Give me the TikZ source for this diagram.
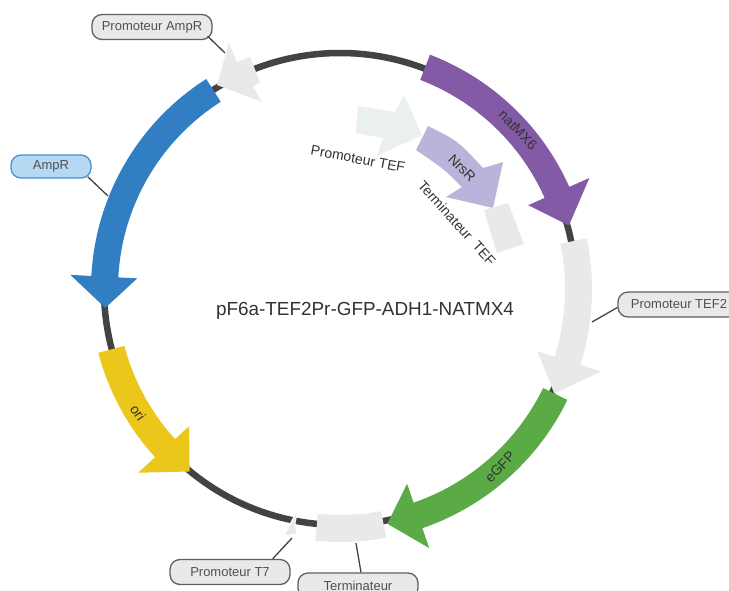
\documentclass[tikz,border=0pt]{standalone}
\usepackage{fontspec}
\setmainfont{Liberation Sans}
\definecolor{ringc}{HTML}{434343}
\definecolor{natc}{HTML}{835AA6}
\definecolor{greyf}{HTML}{E9E9E9}
\definecolor{greenc}{HTML}{5AAB46}
\definecolor{yellowc}{HTML}{EAC71A}
\definecolor{bluec}{HTML}{317EC2}
\definecolor{lblue}{HTML}{B5D8F3}
\definecolor{bborder}{HTML}{4A90D0}
\definecolor{lilac}{HTML}{BBB3DA}
\definecolor{palec}{HTML}{E9F0EF}
\definecolor{textc}{HTML}{333333}
\definecolor{calltext}{HTML}{505050}
\definecolor{gborder}{HTML}{606060}
% #1 start angle, #2 neck angle, #3 tip angle, #4 inner r, #5 outer r, #6 barb inner r, #7 barb outer r, #8 colour
\newcommand{\plasarrow}[8]{%
  \fill[#8] plot[domain=#1:#2,samples=40] ({340+#5*cos(\x)},{289-#5*sin(\x)})
    -- ({340+#7*cos(#2)},{289-#7*sin(#2)})
    -- ({340+(#4+#5)/2*cos(#3)},{289-(#4+#5)/2*sin(#3)})
    -- ({340+#6*cos(#2)},{289-#6*sin(#2)})
    -- plot[domain=#2:#1,samples=40] ({340+#4*cos(\x)},{289-#4*sin(\x)}) -- cycle;}
\tikzset{
  callout/.style={line width=1.3pt,rounded corners=10pt,minimum height=25pt,inner xsep=0pt,inner ysep=0pt,font=\fontsize{13}{15}\selectfont,text=calltext},
  callgrey/.style={callout,draw=gborder,fill=greyf},
  leader/.style={draw=ringc,line width=1.3pt},
  lab/.style={font=\fontsize{14}{16}\selectfont,text=textc,inner sep=0pt},
  inlab/.style={font=\fontsize{14}{16}\selectfont,text=textc,inner sep=0pt},
}
\begin{document}
\begin{tikzpicture}[x=1pt,y=-1pt]
\useasboundingbox (0,0) rectangle (729,590);
\clip (0,0) rectangle (729,590);
\fill[white] (0,0) rectangle (729,590);
% ring
\draw[ringc,line width=6.5pt] (576,289) arc[start angle=0,end angle=360,radius=236pt];
% features on the ring
\plasarrow{69}{24}{15.5}{224}{251}{206}{273}{natc}
\plasarrow{11.6}{-17.5}{-26}{225}{252}{207}{274}{greyf}
\plasarrow{-26}{-71}{-78.6}{226}{253}{206}{274}{greenc}
\plasarrow{122.5}{177}{184.6}{222}{249}{203}{270}{bluec}
\plasarrow{194.8}{222.3}{230.5}{223}{250}{204}{273}{yellowc}
\fill[greyf] plot[domain=-79.5:-95.6,samples=12] ({340+253*cos(\x)},{289-253*sin(\x)})
  -- plot[domain=-95.6:-79.5,samples=12] ({340+226*cos(\x)},{289-226*sin(\x)}) -- cycle;
\fill[greyf] (217,85) -- (229,43) -- (237,62) -- (250,57) -- (260,82) -- (253,87) -- (262,102) -- cycle;
\filldraw[fill=greyf,draw=white,line width=1pt] (298,509) -- (295,523) -- (297,534) -- (284,536) -- cycle;
% inner features
\fill[palec] (358,106) -- (395,112) -- (404,95) -- (422,135) -- (377,156) -- (383,138) -- (356,133) -- cycle;
\fill[lilac] (428,126) .. controls (458,141) .. (483,168) -- (503,162) -- (493,208) -- (446,197) -- (462,187) .. controls (444,169) .. (416,150) -- cycle;
\fill[greyf] (484,210) -- (508,203) -- (524,244) -- (497,253) -- cycle;
% texts
\node[font=\fontsize{18.9}{21}\selectfont,text=textc,inner sep=0pt] (title) at (365,311) {pF6a-TEF2Pr-GFP-ADH1-NATMX4};
\node[lab,rotate=-10.7] (ptef) at (358,159) {Promoteur TEF};
\node[lab,rotate=-48] (ttef) at (457,223) {Terminateur\ \ TEF};
\node[inlab,rotate=-46] (nat) at (518,130) {natMX6};
\node[inlab,rotate=-45] (nrs) at (462,168) {NrsR};
\node[inlab,rotate=47] (gfp) at (500,467) {eGFP};
\node[inlab,rotate=-55] (ori) at (138,413) {ori};
% callouts
\node[callgrey,minimum width=120pt] (pamp) at (152,27) {Promoteur AmpR};
\node[callout,draw=bborder,fill=lblue,minimum width=80pt,minimum height=23pt] (amp) at (51,166.5) {AmpR};
\node[callgrey,minimum width=120pt] (pt7) at (230,572) {Promoteur T7};
\node[callgrey,minimum width=120pt] (term) at (358,585.5) {Terminateur};
\node[callgrey,minimum width=122pt] (ptef2) at (679,304.5) {Promoteur TEF2};
% leaders
\coordinate (cpamp) at (225,53);
\coordinate (camp) at (108,196);
\coordinate (cpt7) at (292,538);
\coordinate (cterm) at (356,543);
\coordinate (cptef2) at (592,322);
\draw[leader] ([shift={(-5,-4)}]pamp.south east) -- (cpamp);
\draw[leader] ([shift={(-4,-2)}]amp.south east) -- (camp);
\draw[leader] ([shift={(-18,0)}]pt7.north east) -- (cpt7);
\draw[leader] ([shift={(3,0)}]term.north) -- (cterm);
\draw[leader] ([shift={(0,3)}]ptef2.west) -- (cptef2);
\end{tikzpicture}
\end{document}
